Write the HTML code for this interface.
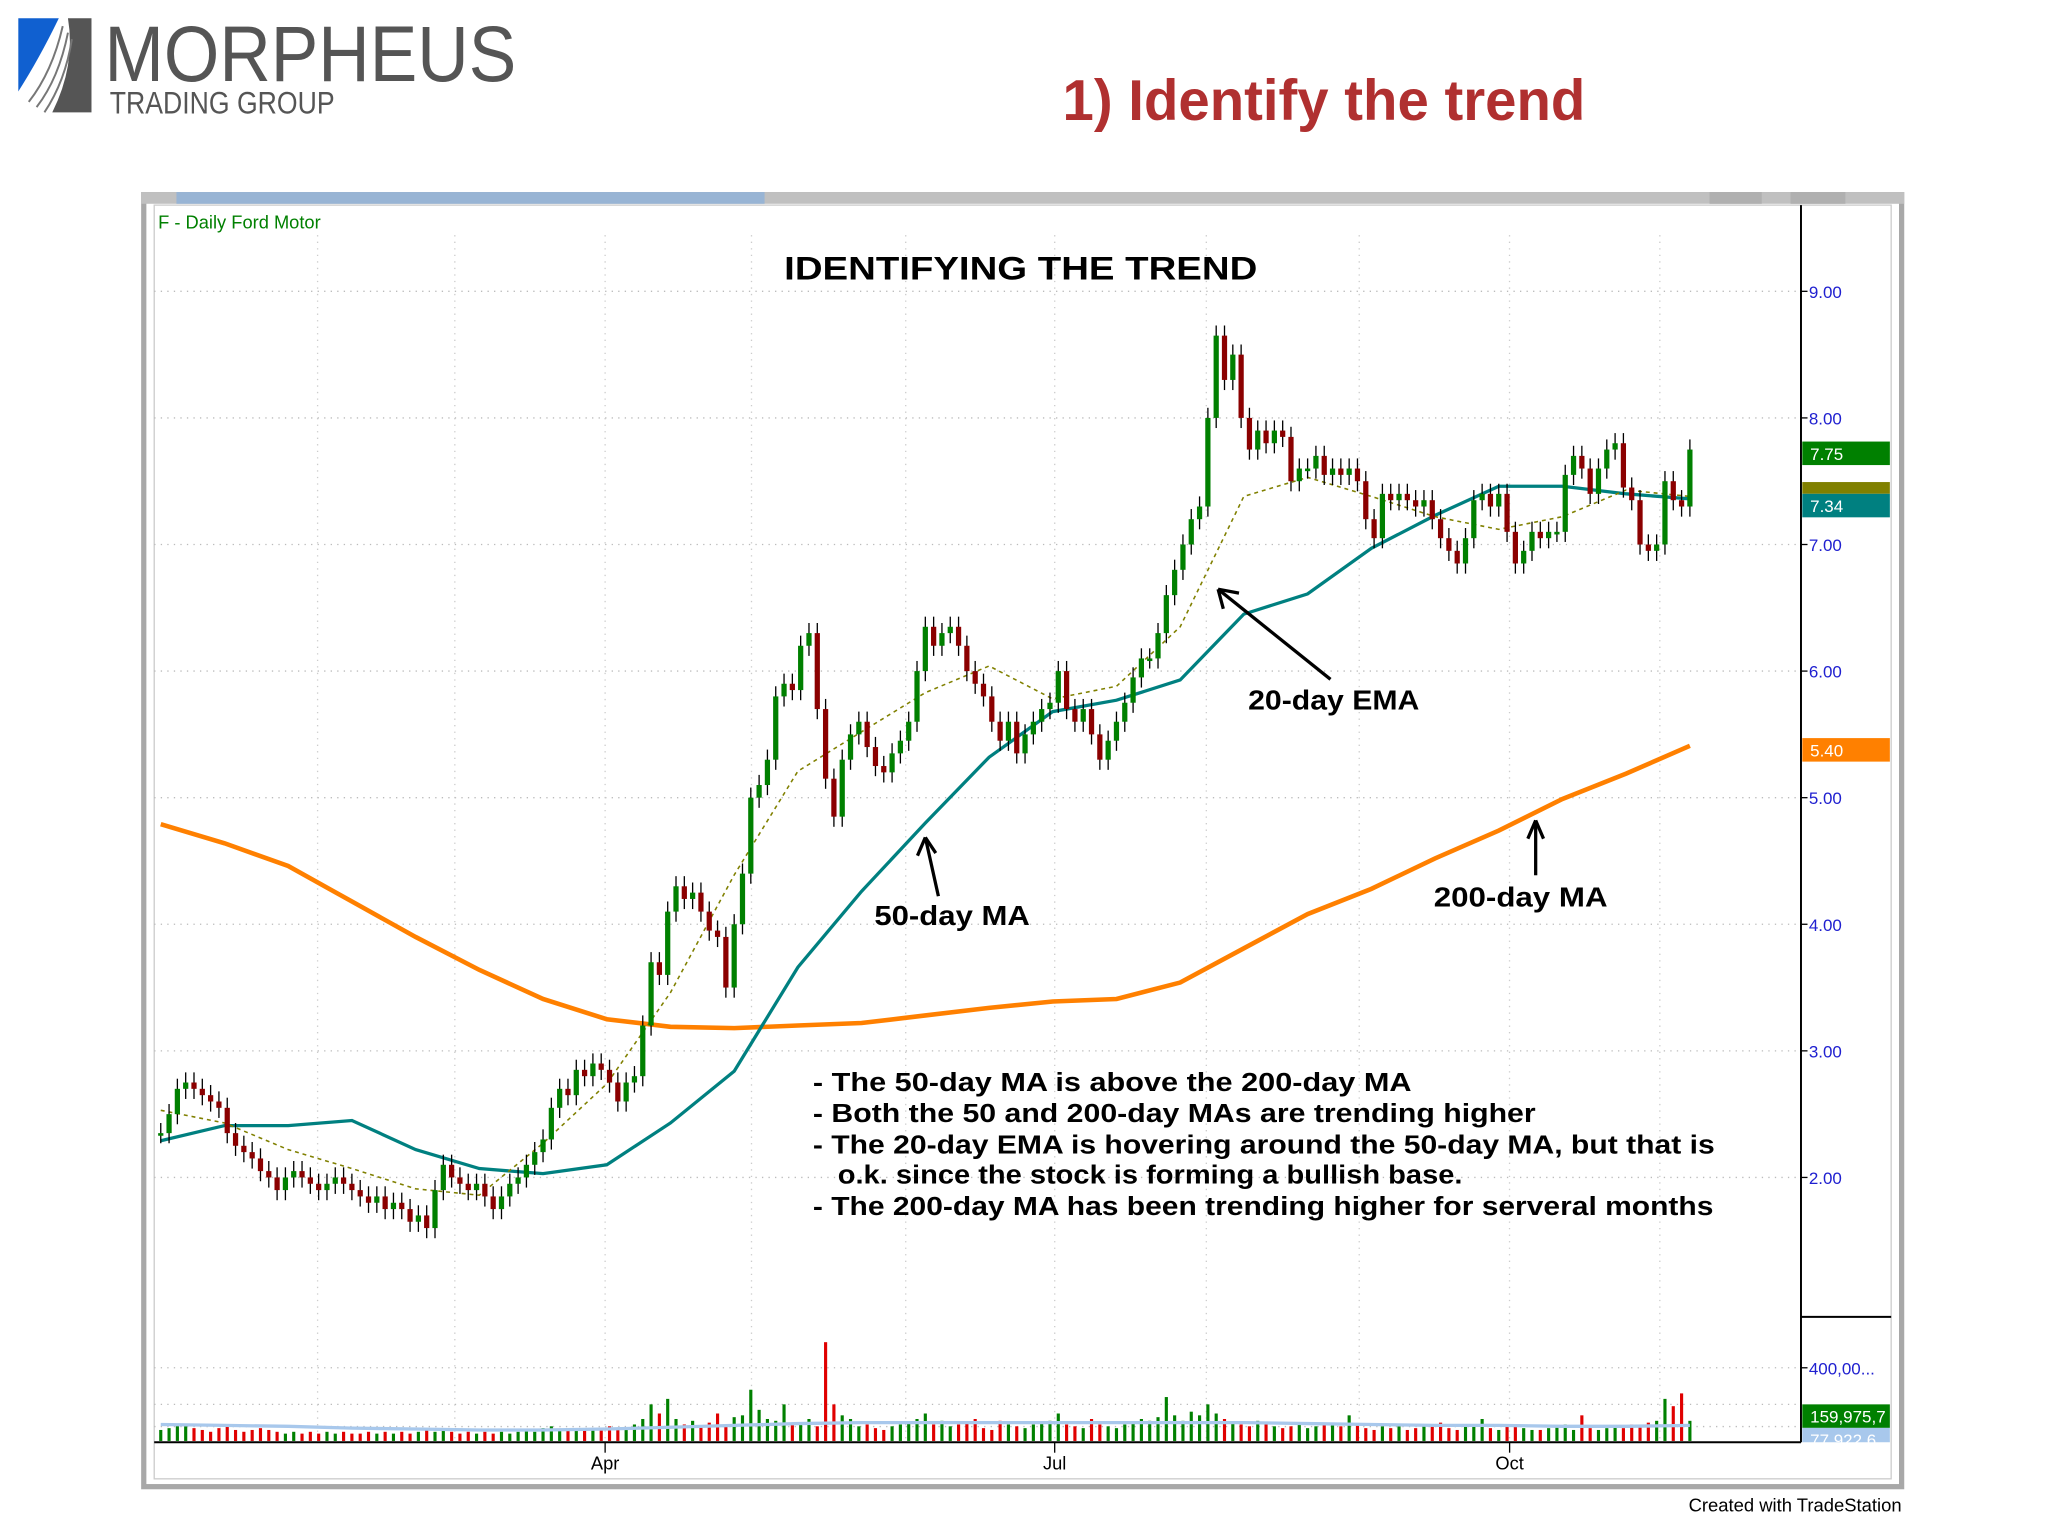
<!DOCTYPE html>
<html><head><meta charset="utf-8"><style>
html,body{margin:0;padding:0;background:#fff;}
svg{display:block;}
text{font-family:"Liberation Sans",sans-serif;}
</style></head><body>
<svg id="chart" width="2048" height="1535" viewBox="0 0 1567 1175" preserveAspectRatio="none" xmlns="http://www.w3.org/2000/svg">
<g>
<path d="M14 14 L45 14 Q30 45 14 70 Z" fill="#1060d0"/>
<path d="M52 14 L70 14 L70 86 L40 86 Q58 50 52 14 Z" fill="#555"/>
<path d="M22 78 Q40 55 48 20 M28 82 Q45 60 52 25 M34 86 Q50 62 55 30" stroke="#777" stroke-width="1.5" fill="none"/>
<text x="80" y="62" font-size="60" fill="#555" textLength="315" lengthAdjust="spacingAndGlyphs">MORPHEUS</text>
<text x="84" y="87" font-size="24" fill="#555" textLength="172" lengthAdjust="spacingAndGlyphs">TRADING GROUP</text>
</g>
<text x="813" y="92" font-size="44" font-weight="bold" fill="#b03030" textLength="400" lengthAdjust="spacingAndGlyphs">1) Identify the trend</text>
<rect x="110" y="149" width="1345" height="989" fill="#fff" stroke="#a8a8a8" stroke-width="4"/>
<rect x="108" y="147" width="1349" height="9" fill="#c0c0c0"/>
<rect x="135" y="147" width="450" height="9" fill="#98b4d4"/>
<rect x="1308" y="147" width="40" height="9" fill="#b0b0b0"/>
<rect x="1370" y="147" width="42" height="9" fill="#b0b0b0"/>
<rect x="118" y="157" width="1329" height="975" fill="#fff" stroke="#ccc" stroke-width="1"/>
<g id="grid"></g>
<g id="ma"></g>
<g id="candles"></g>
<g id="vol"></g>
<g id="axes"></g>
<text x="121" y="175" font-size="14" fill="#008000">F - Daily  Ford Motor</text>
<text x="600" y="214" font-size="25" font-weight="bold" fill="#000" textLength="362" lengthAdjust="spacingAndGlyphs">IDENTIFYING THE TREND</text>
<g font-weight="bold" fill="#000">
<text x="955" y="543" font-size="21" textLength="131" lengthAdjust="spacingAndGlyphs">20-day EMA</text>
<line x1="1018" y1="520" x2="932" y2="451" stroke="#000" stroke-width="2.5"/>
<path d="M932 451 L948 454 M932 451 L936 466" stroke="#000" stroke-width="2.5" fill="none"/>
<text x="669" y="708" font-size="21" textLength="119" lengthAdjust="spacingAndGlyphs">50-day MA</text>
<line x1="718" y1="686" x2="708" y2="641" stroke="#000" stroke-width="2.5"/>
<path d="M708 641 L702 655 M708 641 L716 653" stroke="#000" stroke-width="2.5" fill="none"/>
<text x="1097" y="694" font-size="21" textLength="133" lengthAdjust="spacingAndGlyphs">200-day MA</text>
<line x1="1175" y1="670" x2="1175" y2="628" stroke="#000" stroke-width="2.5"/>
<path d="M1175 628 L1169 642 M1175 628 L1181 642" stroke="#000" stroke-width="2.5" fill="none"/>
</g>
<g font-size="20" font-weight="bold" fill="#000">
<text x="622" y="835" textLength="458" lengthAdjust="spacingAndGlyphs">- The 50-day MA is above the 200-day MA</text>
<text x="622" y="859" textLength="553" lengthAdjust="spacingAndGlyphs">- Both the 50 and 200-day MAs are trending higher</text>
<text x="622" y="883" textLength="690" lengthAdjust="spacingAndGlyphs">- The 20-day EMA is hovering around the 50-day MA, but that is</text>
<text x="641" y="906" textLength="478" lengthAdjust="spacingAndGlyphs">o.k. since the stock is forming a bullish base.</text>
<text x="622" y="930" textLength="689" lengthAdjust="spacingAndGlyphs">- The 200-day MA has been trending higher for serveral months</text>
</g>
<text x="1292" y="1157" font-size="14" fill="#000" textLength="163" lengthAdjust="spacingAndGlyphs">Created with TradeStation</text>
</svg>
<script>
const closes=[2.35,2.5,2.7,2.75,2.7,2.65,2.6,2.55,2.35,2.25,2.2,2.15,2.05,2.0,1.9,2.0,2.05,2.0,1.95,1.9,1.95,2.0,1.95,1.9,1.85,1.8,1.85,1.75,1.8,1.75,1.65,1.7,1.6,1.9,2.1,2.0,1.95,1.9,1.95,1.85,1.75,1.85,1.95,2.0,2.1,2.2,2.3,2.55,2.7,2.65,2.85,2.8,2.9,2.85,2.75,2.6,2.75,2.8,3.2,3.7,3.6,4.1,4.3,4.2,4.25,4.1,3.95,3.9,3.5,4.0,4.4,
5.0,5.1,5.3,5.8,5.9,5.85,6.2,6.3,5.7,5.15,4.85,5.3,5.5,5.6,5.4,5.25,5.2,5.35,5.45,5.6,6.0,6.35,6.2,6.3,6.35,6.2,6.0,5.9,5.8,5.6,5.45,5.6,5.35,5.5,5.6,5.7,5.75,6.0,5.7,5.6,5.7,5.5,5.3,5.45,5.6,5.75,5.95,6.1,6.1,6.3,6.6,6.8,7.0,7.2,7.3,8.0,8.65,8.3,8.5,8.0,7.75,7.9,7.8,7.9,7.85,7.5,7.6,7.6,7.7,7.55,7.6,7.55,7.6,7.5,7.2,7.05,7.4,7.35,7.4,7.35,7.3,7.35,7.2,7.05,6.95,6.85,7.05,7.35,7.4,7.3,7.4,7.1,6.85,6.95,7.1,7.05,7.1,7.1,7.55,7.7,7.6,7.4,7.6,7.75,7.8,7.45,7.35,7.0,6.95,7.0,7.5,7.35,7.3,7.75];
const volumes=[60,70,90,80,70,60,50,70,80,60,50,60,70,60,50,40,50,40,50,40,50,40,50,40,40,50,40,50,40,50,40,50,60,50,60,50,40,50,40,50,40,50,40,50,60,50,70,80,60,70,60,70,60,70,80,70,60,90,120,200,150,230,120,90,110,80,100,150,90,130,140,
280,170,120,110,200,100,90,120,80,540,200,140,120,80,90,70,60,80,90,100,120,150,90,110,80,90,100,120,70,60,110,90,80,70,90,100,110,150,90,80,70,120,90,80,70,90,100,120,110,130,240,140,110,160,140,200,150,120,100,90,80,110,90,80,70,80,90,70,80,100,90,80,140,90,70,60,80,70,80,60,70,90,80,100,70,60,80,90,120,70,60,80,90,70,60,60,70,80,90,60,140,70,60,70,80,70,90,80,100,110,230,190,260,110,170];
const avgFrac=[0,0.0417,0.0833,0.125,0.1667,0.2083,0.25,0.2917,0.3333,0.375,0.4167,0.4583,0.5,0.5417,0.5833,0.625,0.6667,0.7083,0.75,0.7917,0.8333,0.875,0.9167,0.9583,1];
const ma200=[4.79,4.64,4.46,4.18,3.90,3.64,3.41,3.25,3.19,3.18,3.20,3.22,3.28,3.34,3.39,3.41,3.54,3.81,4.08,4.28,4.52,4.74,4.99,5.19,5.41];
const ma50=[2.29,2.41,2.41,2.45,2.22,2.07,2.03,2.10,2.43,2.84,3.66,4.26,4.80,5.32,5.68,5.77,5.93,6.45,6.61,6.97,7.23,7.46,7.46,7.40,7.36];
const ema20=[2.53,2.43,2.22,2.07,1.91,1.86,2.27,2.74,3.46,4.39,5.21,5.52,5.83,6.04,5.78,5.88,6.35,7.38,7.53,7.38,7.22,7.12,7.22,7.43,7.38];
const volAvg=[90,85,80,70,65,60,60,65,75,85,95,100,100,100,100,100,100,100,95,90,85,85,80,80,85];
const priceTicks=[2,3,4,5,6,7,8,9];
const priceTickLabels=["2.00","3.00","4.00","5.00","6.00","7.00","8.00","9.00"];
const monthLabels=["Apr","Jul","Oct"];
const monthFrac=[0.2906,0.5846,0.8821];
const NS="http://www.w3.org/2000/svg";
const X0=123,X1=1293,YP9=223,PPU=96.9,VBASE=1103,VPX=56/400;
const n=Math.min(closes.length,volumes.length);
function xi(i){return X0+i*(X1-X0)/(n-1);}
function xf(f){return X0+f*(X1-X0);}
function yp(p){return YP9+(9-p)*PPU;}
function yv(v){return VBASE-v*VPX;}
function mk(tag,attrs,parent){const e=document.createElementNS(NS,tag);for(const k in attrs)e.setAttribute(k,attrs[k]);parent.appendChild(e);return e;}
const grid=document.getElementById('grid');
priceTicks.forEach((p,k)=>{
 const l=mk('line',{x1:118,x2:1378,y1:yp(p),y2:yp(p),stroke:'#bbb','stroke-dasharray':'1,4'},grid);
 
 
});
[243,348,463,575,693,807,923,1040,1155,1270].forEach(x=>{
 const l=mk('line',{x1:x,x2:x,y1:180,y2:1104,stroke:'#ccc','stroke-dasharray':'1,4'},grid);
 
 
});
[1047,1075,1092].forEach(y=>{mk('line',{x1:118,x2:1378,y1:y,y2:y,stroke:'#bbb','stroke-dasharray':'1,4'},grid);});
const ma=document.getElementById('ma');
function line(arr,name,attrs){
 const pts=arr.map((v,k)=>xf(avgFrac[k]).toFixed(1)+','+yp(v).toFixed(1)).join(' ');
 const pl=mk('polyline',Object.assign({points:pts,fill:'none'},attrs),ma);
 
 
}
line(ma200,'ma200-line',{stroke:'#ff8000','stroke-width':3.5});
line(ma50,'ma50-line',{stroke:'#008080','stroke-width':2.5});
line(ema20,'ema20-line',{stroke:'#808000','stroke-width':1.2,'stroke-dasharray':'3,3'});
const cg=document.getElementById('candles');
const vg=document.getElementById('vol');
for(let i=0;i<n;i++){
 const c=closes[i],o=i>0?closes[i-1]:c;
 const up=c>=o,x=xi(i);
 const hi=Math.max(o,c)+0.08,lo=Math.min(o,c)-0.08;
 const w=mk('line',{x1:x,x2:x,y1:yp(hi),y2:yp(lo),stroke:'#000','stroke-width':1},cg);
 
 
 const top=yp(Math.max(o,c)),h=Math.max(2,yp(Math.min(o,c))-top);
 const b=mk('rect',{x:x-2,y:top,width:4,height:h,fill:up?'#008000':'#8b0000'},cg);
 
 
 const vb=mk('rect',{x:x-1.2,y:yv(volumes[i]),width:2.4,height:VBASE-yv(volumes[i]),fill:up?'#008000':'#e00000'},vg);
 
 
}
const vpts=volAvg.map((v,k)=>xf(avgFrac[k]).toFixed(1)+','+yv(v).toFixed(1)).join(' ');
const va=mk('polyline',{points:vpts,fill:'none',stroke:'#a8c8ec','stroke-width':2.5},vg);


const ax=document.getElementById('axes');
mk('line',{x1:1378,x2:1378,y1:157,y2:1104,stroke:'#000','stroke-width':1.5},ax);
mk('line',{x1:118,x2:1378,y1:1104,y2:1104,stroke:'#000','stroke-width':1.5},ax);
mk('line',{x1:1378,x2:1447,y1:1008,y2:1008,stroke:'#000','stroke-width':1.5},ax);
priceTicks.forEach((p,k)=>{
 mk('line',{x1:1378,x2:1383,y1:yp(p),y2:yp(p),stroke:'#000'},ax);
 const t=mk('text',{x:1384,y:yp(p)+5,'font-size':13,fill:'#2020d0'},ax);
 t.textContent=priceTickLabels[k];
 
 
});
monthLabels.forEach((m,k)=>{
 const x=xf(monthFrac[k]);
 mk('line',{x1:x,x2:x,y1:1104,y2:1112,stroke:'#000'},ax);
 const t=mk('text',{x:x,y:1125,'font-size':14,fill:'#000','text-anchor':'middle'},ax);
 t.textContent=m;
 
 
});
const badges=[["7.75",338,'#008000','#fff'],["7.42",369,'#808000','#fff'],["7.34",378,'#008080','#fff'],["5.40",565,'#ff8000','#fff'],["159,975,7",1075,'#008000','#fff'],["77,922,6",1093,'#a8c8ec','#fff']];
badges.forEach(b=>{
 const r=mk('rect',{x:1379,y:b[1],width:67,height:b[0]==="7.42"?9:(b[0]==="77,922,6"?11:18),fill:b[2]},ax);
 
 
 if(b[0]!=="7.42"){const t=mk('text',{x:1385,y:b[1]+14,'font-size':13,fill:b[3]},ax);t.textContent=b[0];}
});
const v4=mk('text',{x:1384,y:1052,'font-size':13,fill:'#2020d0'},ax);v4.textContent="400,00...";
mk('line',{x1:1378,x2:1383,y1:1047,y2:1047,stroke:'#000'},ax);
</script>
</body></html>
